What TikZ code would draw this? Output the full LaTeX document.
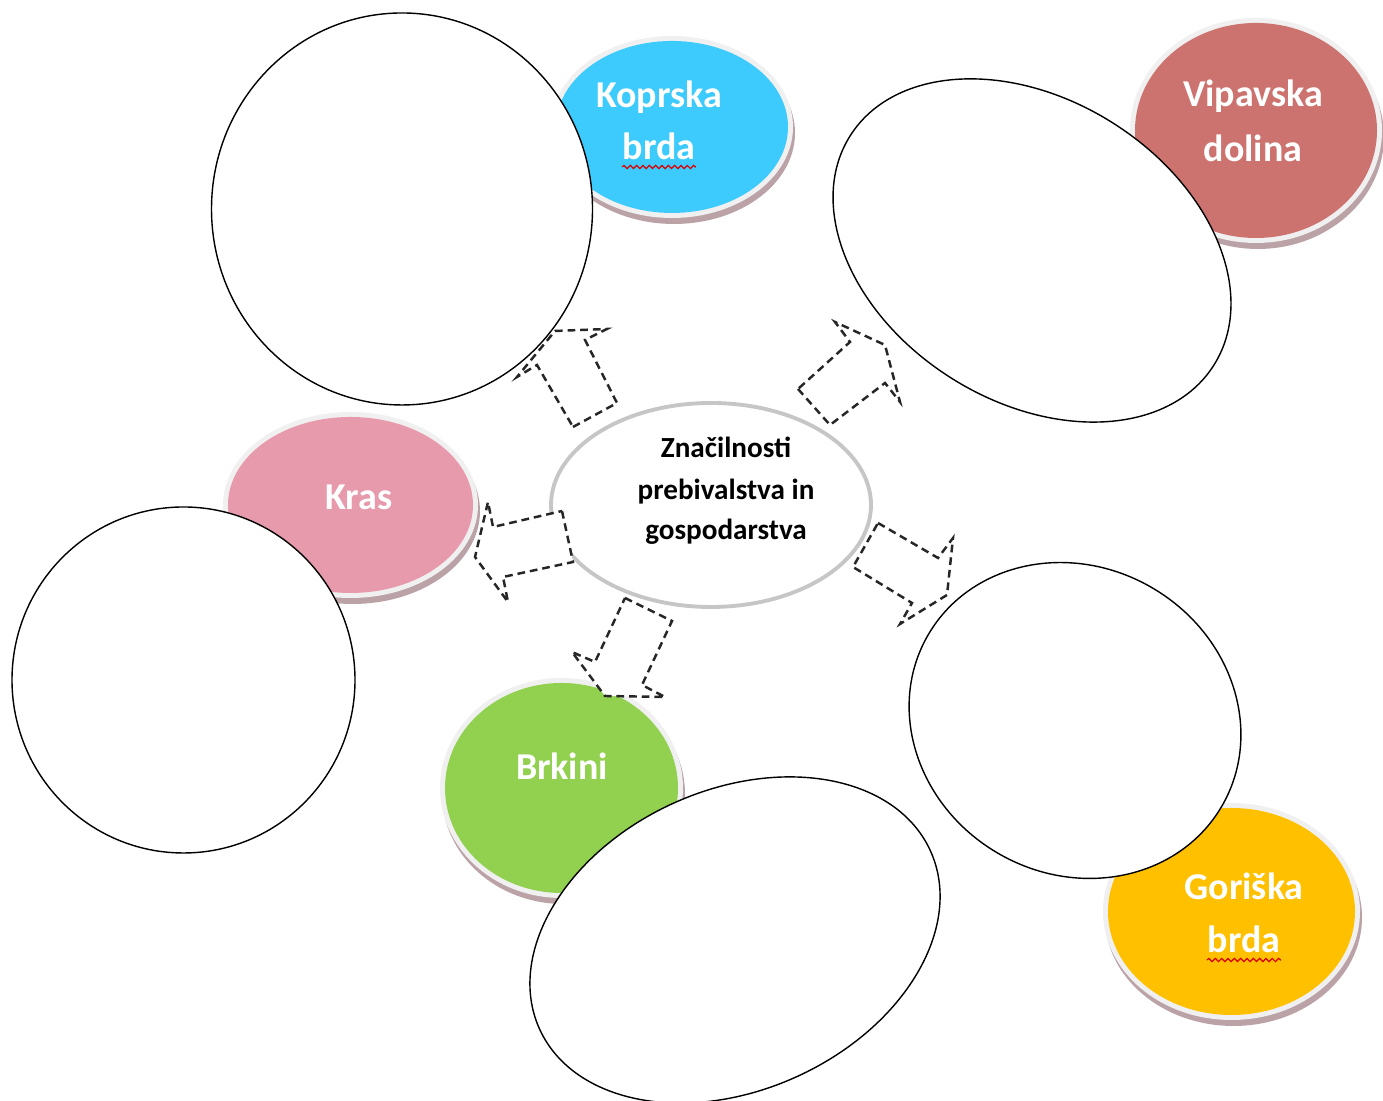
\documentclass[tikz,border=0pt]{standalone}
\usepackage{fontspec}
\setmainfont{Carlito}
\usepackage{tikz}
\usetikzlibrary{decorations.pathmorphing}

\definecolor{koprcol}{HTML}{3DCBFD}
\definecolor{vipcol}{HTML}{CC7370}
\definecolor{krascol}{HTML}{E89AAD}
\definecolor{brkcol}{HTML}{92D050}
\definecolor{gorcol}{HTML}{FFC000}
\definecolor{rimcol}{HTML}{F0F0F0}
\definecolor{dropcol}{HTML}{BBA2A7}
\definecolor{midcol}{HTML}{C6C6C6}

\begin{document}
\begin{tikzpicture}[
	drop/.style={fill=dropcol},
	rim/.style={fill=rimcol},
	hole/.style={draw=black,fill=white,line width=0.4pt},
	blockarrow/.style={draw=black!85,fill=white,line width=0.7pt,dash pattern=on 2.2pt off 1.4pt},
	lbl/.style={anchor=base,inner sep=0pt,text=white,font=\bfseries\fontsize{10.8}{13}\selectfont},
	midlbl/.style={anchor=base,inner sep=0pt,font=\bfseries\fontsize{8.3}{10}\selectfont},
	spell/.style={draw=red!85!black,line width=0.35pt,decorate,decoration={snake,amplitude=0.45pt,segment length=1.8pt}}]
	\useasboundingbox (0,0) rectangle (13.83,11.01);

	%coloured bubbles
	\fill[drop] (6.74,9.68) ellipse (1.21 and 0.91);
	\fill[rim] (6.72,9.74) ellipse (1.21 and 0.91);
	\fill[koprcol] (6.72,9.74) ellipse (1.16 and 0.86);
	%
	\fill[drop] (12.58,9.645) ellipse (1.26 and 1.125);
	\fill[rim] (12.56,9.705) ellipse (1.26 and 1.125);
	\fill[vipcol] (12.56,9.705) ellipse (1.21 and 1.075);
	%
	\fill[drop] (3.525,5.90) ellipse (1.275 and 0.93);
	\fill[rim] (3.505,5.96) ellipse (1.275 and 0.93);
	\fill[krascol] (3.505,5.96) ellipse (1.225 and 0.88);
	%
	\fill[drop] (5.635,3.07) ellipse (1.215 and 1.10);
	\fill[rim] (5.615,3.13) ellipse (1.215 and 1.10);
	\fill[brkcol] (5.615,3.13) ellipse (1.165 and 1.05);
	%
	\fill[drop] (12.335,1.835) ellipse (1.285 and 1.085);
	\fill[rim] (12.315,1.895) ellipse (1.285 and 1.085);
	\fill[gorcol] (12.315,1.895) ellipse (1.235 and 1.035);

	%labels in bubbles
	\node[lbl] (kopr1) at (6.59,9.93) {Koprska};
	\node[lbl] (kopr2) at (6.59,9.41) {brda};
	\node[lbl] (vip1) at (12.53,9.94) {Vipavska};
	\node[lbl] (vip2) at (12.53,9.39) {dolina};
	\node[lbl] (kras) at (3.59,5.91) {Kras};
	\node[lbl] (brk) at (5.62,3.21) {Brkini};
	\node[lbl] (gor1) at (12.44,2.01) {Goriška};
	\node[lbl] (gor2) at (12.44,1.48) {brda};
	\draw[spell] ([yshift=-2pt]kopr2.base west) -- ([yshift=-2pt]kopr2.base east);
	\draw[spell] ([yshift=-2pt]gor2.base west) -- ([yshift=-2pt]gor2.base east);

	%empty ellipses
	\filldraw[hole] (4.02,8.92) ellipse (1.905 and 1.96);
	\filldraw[hole, rotate around={-32.2:(10.32,8.505)}] (10.32,8.505) ellipse (2.15 and 1.51);
	\filldraw[hole] (1.835,4.21) ellipse (1.715 and 1.73);
	\filldraw[hole, rotate around={24.6:(7.35,1.61)}] (7.35,1.61) ellipse (2.148 and 1.50);
	\filldraw[hole, rotate around={-30.6:(10.75,3.805)}] (10.75,3.805) ellipse (1.70 and 1.535);

	%centre
	\filldraw[draw=midcol,line width=1.1pt,fill=white] (7.11,5.96) ellipse (1.60 and 1.02);

	%dashed block arrows
	\draw[blockarrow] (5.73,6.74) -- (6.17,6.98) -- (5.85,7.61) -- (6.07,7.72) -- (5.55,7.70) -- (5.17,7.24) -- (5.37,7.36) -- cycle;
	\draw[blockarrow] (7.98,7.12) -- (8.30,6.76) -- (8.85,7.18) -- (9.00,6.99) -- (8.85,7.56) -- (8.35,7.79) -- (8.50,7.59) -- cycle;
	\draw[blockarrow] (5.62,5.90) -- (5.73,5.39) -- (5.03,5.24) -- (5.08,4.99) -- (4.75,5.44) -- (4.88,5.99) -- (4.93,5.74) -- cycle;
	\draw[blockarrow] (6.25,5.03) -- (6.72,4.80) -- (6.42,4.16) -- (6.65,4.04) -- (6.05,4.05) -- (5.72,4.49) -- (5.95,4.39) -- cycle;
	\draw[blockarrow] (8.78,5.78) -- (9.38,5.43) -- (9.53,5.63) -- (9.47,5.06) -- (9.00,4.77) -- (9.12,4.98) -- (8.53,5.34) -- cycle;

	%centre text
	\node[midlbl] (mid1) at (7.26,6.43) {Značilnosti};
	\node[midlbl] (mid2) at (7.26,6.01) {prebivalstva in};
	\node[midlbl] (mid3) at (7.26,5.61) {gospodarstva};
\end{tikzpicture}
\end{document}
